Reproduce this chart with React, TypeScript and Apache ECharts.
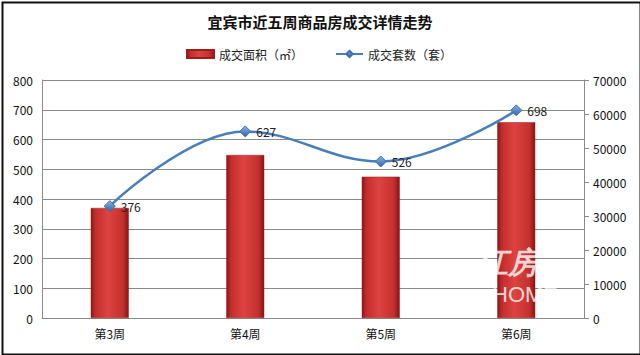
import React, { useEffect, useRef } from "react";
import * as echarts from "echarts";

const categories = ["第3周", "第4周", "第5周", "第6周"];
const areaValues = [370, 548, 475, 658];
const unitValues = [376, 627, 526, 698];
const leftTicks = { min: 0, max: 800, interval: 100 };
const rightTicks = { min: 0, max: 70000, interval: 10000 };
const titleText = "宜宾市近五周商品房成交详情走势";
const seriesNames = ["成交面积（㎡）", "成交套数（套）"];

export default function App() {
  const ref = useRef<HTMLDivElement>(null);
  useEffect(() => {
    if (!ref.current) return;
    const chart = echarts.init(ref.current, undefined, { renderer: "svg" });
    const font = "'Noto Sans CJK SC', 'Noto Sans', sans-serif";
    chart.setOption({
      animation: false,
      backgroundColor: "#fff",
      textStyle: { fontFamily: font },
      title: {
        text: titleText,
        left: "center",
        top: 9,
        textStyle: { fontSize: 15, fontWeight: "bold", color: "#111", fontFamily: font },
      },
      legend: {
        top: 43,
        left: 181,
        itemGap: 32,
        itemWidth: 27,
        itemHeight: 8,
        textStyle: { fontSize: 12, color: "#222", fontFamily: font },
        data: [
          { name: seriesNames[0], icon: "rect" },
          { name: seriesNames[1] },
        ],
      },
      grid: { left: 42, right: 56, top: 80, bottom: 37 },
      xAxis: {
        type: "category",
        data: categories,
        axisLine: { show: true, lineStyle: { color: "#8a8a8a", width: 1 } },
        axisTick: { show: false },
        axisLabel: { color: "#111", fontSize: 12, margin: 9 },
      },
      yAxis: [
        {
          type: "value",
          min: leftTicks.min,
          max: leftTicks.max,
          interval: leftTicks.interval,
          axisLine: { show: true, lineStyle: { color: "#8a8a8a" } },
          axisTick: { show: false },
          axisLabel: { color: "#111", fontSize: 12, margin: 9 },
          splitLine: { show: true, lineStyle: { color: "#8a8a8a", width: 1 } },
        },
        {
          type: "value",
          min: rightTicks.min,
          max: rightTicks.max,
          interval: rightTicks.interval,
          position: "right",
          axisLine: { show: true, lineStyle: { color: "#8a8a8a" } },
          axisTick: { show: true, length: 5, lineStyle: { color: "#8a8a8a" } },
          axisLabel: {
            color: "#111",
            fontSize: 12,
            margin: 9,
            formatter: (v: number) => String(v),
          },
          splitLine: { show: false },
        },
      ],
      series: [
        {
          name: seriesNames[0],
          type: "bar",
          yAxisIndex: 0,
          data: areaValues,
          barWidth: 38,
          itemStyle: {
            color: new echarts.graphic.LinearGradient(0, 0, 1, 0, [
              { offset: 0, color: "#8e1616" },
              { offset: 0.12, color: "#c22d2b" },
              { offset: 0.45, color: "#dd4340" },
              { offset: 0.85, color: "#c3302d" },
              { offset: 1, color: "#8a1414" },
            ]),
            borderColor: "#9a1e1e",
            borderWidth: 0.5,
          },
        },
        {
          name: seriesNames[1],
          type: "line",
          yAxisIndex: 0,
          data: unitValues,
          smooth: 0.4,
          symbol: "diamond",
          symbolSize: 11,
          lineStyle: { color: "#4a7ebb", width: 2.5 },
          itemStyle: {
            color: new echarts.graphic.LinearGradient(0, 0, 0, 1, [
              { offset: 0, color: "#8db3e2" },
              { offset: 1, color: "#2e65a8" },
            ]),
            borderColor: "#3a6fb0",
            borderWidth: 1,
          },
          label: {
            show: true,
            position: "right",
            distance: 5,
            color: "#222",
            fontSize: 12,
          },
        },
      ],
      graphic: [
        {
          type: "text",
          left: 478,
          top: 247,
          z: 100,
          style: {
            text: "江房",
            fontSize: 30,
            fontWeight: "bold",
            fontStyle: "italic",
            fill: "rgba(255,255,255,0.8)",
          },
        },
        {
          type: "text",
          left: 492,
          top: 283,
          z: 100,
          style: {
            text: "HOME",
            fontSize: 22,
            fill: "rgba(255,255,255,0.8)",
          },
        },
        {
          type: "rect",
          left: 0,
          top: 0,
          z: 100,
          shape: { x: 0, y: 0, width: 638, height: 352 },
          style: { fill: "none", stroke: "#111", lineWidth: 2 },
        },
      ],
    });
    return () => chart.dispose();
  }, []);
  return (
    <div
      ref={ref}
      style={{ position: "fixed", left: 0, top: 0, width: 640, height: 355 }}
    />
  );
}
